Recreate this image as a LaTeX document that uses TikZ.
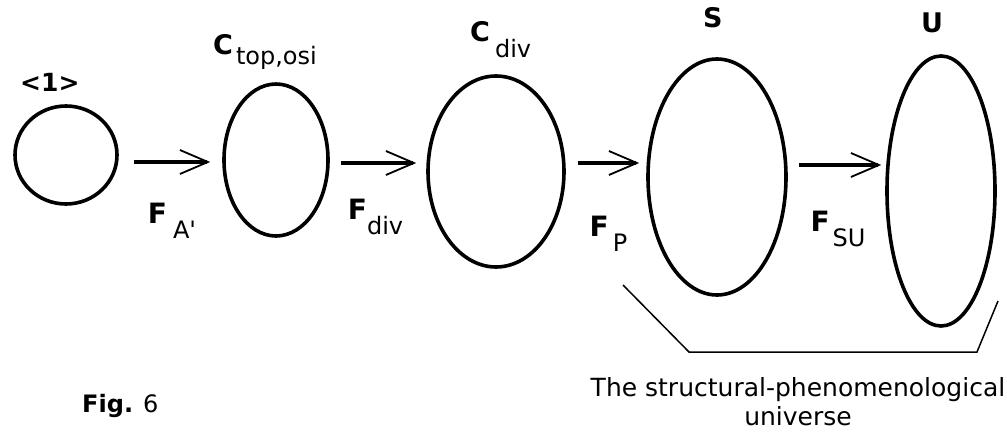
\documentclass[tikz,border=0pt]{standalone}
\usepackage{fontspec}
\setmainfont{DejaVu Sans}
\usetikzlibrary{shapes.geometric,arrows.meta,calc}
\tikzstyle{set} = [ellipse, draw, line width=3.6pt, inner sep=0pt]
\tikzstyle{conn} = [draw, line width=3.6pt, -{Straight Barb[length=28pt,width=24pt,line width=1.8pt]}]
\tikzstyle{lab} = [inner sep=0pt, anchor=base west, font=\fontsize{27}{32}\selectfont\bfseries]
\tikzstyle{flab} = [inner sep=0pt, midway, font=\fontsize{28}{32}\selectfont\bfseries]
\newcommand{\lowsub}[2][15pt]{\raisebox{-#1}{\fontsize{24}{28}\selectfont\mdseries #2}}

\begin{document}
\begin{tikzpicture}[x=1pt,y=-1pt]
    \useasboundingbox (0,0) rectangle (1007,436);
    % Place nodes
    \node[set, minimum width=102pt, minimum height=98pt] (one) at (66,155) {};
    \node[set, minimum width=104pt, minimum height=152pt] (ctop) at (276,160) {};
    \node[set, minimum width=136pt, minimum height=191pt] (cdiv) at (496,171.5) {};
    \node[set, minimum width=138pt, minimum height=236pt] (s) at (717,177) {};
    \node[set, minimum width=108pt, minimum height=270pt] (u) at (941,191) {};
    % Labels above
    \node[lab, font=\fontsize{25}{30}\selectfont\bfseries] (onelab) at (20,92) {<1>};
    \node[lab] (ctoplab) at (213,55) {C\hspace{3pt}\lowsub[10pt]{top,osi}};
    \node[lab] (cdivlab) at (470,42) {C\hspace{5pt}\lowsub[16pt]{div}};
    \node[lab] (slab) at (703,28) {S};
    \node[lab] (ulab) at (921,33) {U};
    % Draw edges
    \path[conn] ($(one.east)+(15,7)$) -- ($(ctop.west)+(-12,2)$)
        node[flab, below=39pt] {F\hspace{6pt}\lowsub{A\textquotesingle}};
    \path[conn] ($(ctop.east)+(11,3)$) -- ($(cdiv.west)+(-10,-8.5)$)
        node[flab, below=34pt, xshift=-3pt] {F\lowsub{div}};
    \path[conn] ($(cdiv.east)+(12,-8.5)$) -- ($(s.west)+(-7,-14)$)
        node[flab, below=51pt] {F\hspace{4pt}\lowsub{P}};
    \path[conn] ($(s.east)+(11,-12)$) -- ($(u.west)+(-4,-26)$)
        node[flab, below=44pt, xshift=-2pt] {F\hspace{3pt}\lowsub{SU}};
    % Bracket and captions
    \draw[line width=1.5pt] (623,285) -- (689,352) -- (977,352) -- (998,301);
    \node[inner sep=0pt, align=center, font=\fontsize{25}{29}\selectfont] (univ) at (798,402)
        {The structural-phenomenological\\universe};
    \node[lab, font=\fontsize{24}{28}\selectfont\bfseries] (fig) at (82,412) {Fig.\hspace{10pt}\mdseries 6};
\end{tikzpicture}
\end{document}
